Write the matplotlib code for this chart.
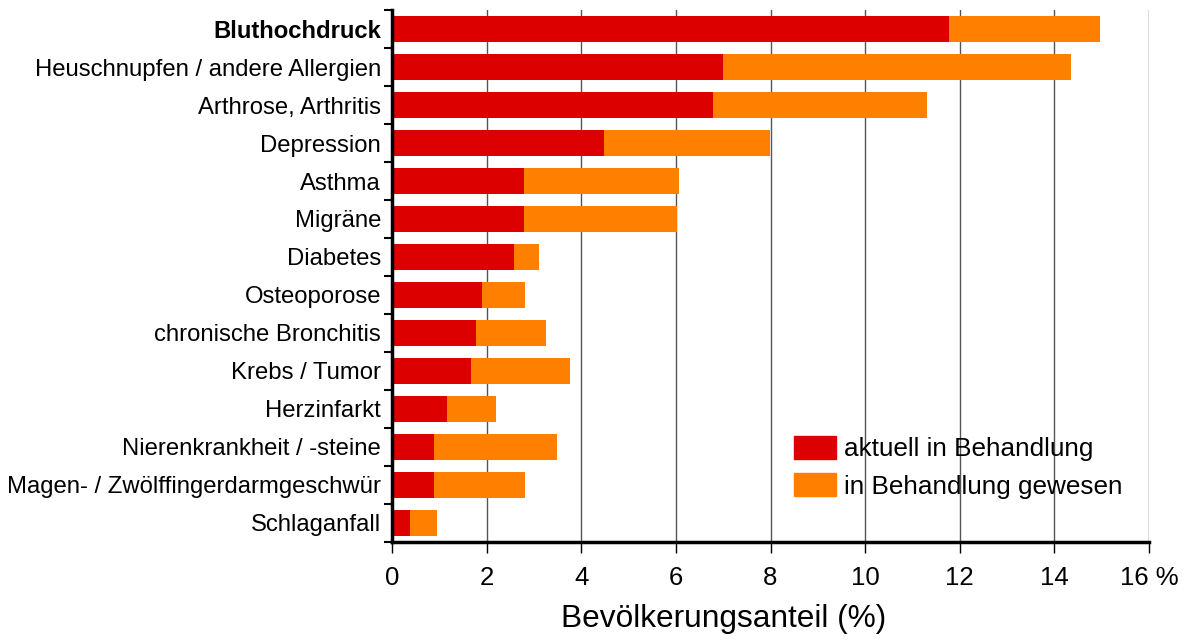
import numpy as np
import matplotlib
matplotlib.use("Agg")
import matplotlib.pyplot as plt
from matplotlib.patches import Patch

plt.rcParams['font.family'] = ['Liberation Sans', 'DejaVu Sans']

# ── DATA ──────────────────────────────────────────────────────────────────────
categories = [
    "Bluthochdruck",
    "Heuschnupfen / andere Allergien",
    "Arthrose, Arthritis",
    "Depression",
    "Asthma",
    "Migräne",
    "Diabetes",
    "Osteoporose",
    "chronische Bronchitis",
    "Krebs / Tumor",
    "Herzinfarkt",
    "Nierenkrankheit / -steine",
    "Magen- / Zwölffingerdarmgeschwür",
    "Schlaganfall",
]
aktuell = [11.78, 7.0, 6.78, 4.48, 2.8, 2.8, 2.57, 1.9, 1.78, 1.68, 1.17, 0.89, 0.89, 0.38]
gesamt = [14.97, 14.36, 11.3, 7.98, 6.07, 6.02, 3.1, 2.81, 3.26, 3.77, 2.2, 3.48, 2.81, 0.95]
frueher = [g - a for g, a in zip(gesamt, aktuell)]

x_ticks = [0, 2, 4, 6, 8, 10, 12, 14, 16]
x_ticklabels = ["0", "2", "4", "6", "8", "10", "12", "14", "16 %"]
legend_labels = ["aktuell in Behandlung", "in Behandlung gewesen"]

RED = "#dc0000"
ORANGE = "#ff8000"

# ── PLOT ──────────────────────────────────────────────────────────────────────
fig = plt.figure(figsize=(12.01, 6.42), dpi=100)
ax = fig.add_axes([0.3264, 0.1558, 0.6303, 0.8286])

y = np.arange(len(categories))
ax.barh(y, aktuell, height=0.7, color=RED, zorder=3)
ax.barh(y, frueher, left=aktuell, height=0.7, color=ORANGE, zorder=3)

ax.set_xlim(0, 16)
ax.set_ylim(len(categories) - 0.5, -0.5)

ax.set_xticks(x_ticks)
ax.set_xticklabels(x_ticklabels, fontsize=18.5)
ax.set_yticks(y)
ax.set_yticklabels(categories, fontsize=17.2)
ax.get_yticklabels()[0].set_fontweight("bold")
ax.set_yticks(np.arange(len(categories) + 1) - 0.5, minor=True)

ax.tick_params(axis="y", which="major", length=0, pad=8)
ax.tick_params(axis="y", which="minor", length=6, width=1.5, direction="out")
ax.tick_params(axis="x", which="major", length=8, width=1, direction="out", pad=9)

ax.xaxis.grid(True, color="#555555", linewidth=1, zorder=0)
ax.set_axisbelow(True)

for s in ["top", "right"]:
    ax.spines[s].set_visible(False)
for s in ["left", "bottom"]:
    ax.spines[s].set_linewidth(2.5)
    ax.spines[s].set_zorder(4)

ax.set_xlabel("Bevölkerungsanteil (%)", fontsize=22.8, labelpad=8)
ax.xaxis.set_label_coords(0.4386, -0.117)

handles = [Patch(color=RED), Patch(color=ORANGE)]
ax.legend(handles, legend_labels, loc="upper left", bbox_to_anchor=(0.531, 0.2),
          frameon=False, fontsize=18.8, handlelength=1.6, handleheight=1.0,
          handletextpad=0.3, labelspacing=0.45, borderpad=0, borderaxespad=0)

fig.savefig("out.png", dpi=100, facecolor="white")
